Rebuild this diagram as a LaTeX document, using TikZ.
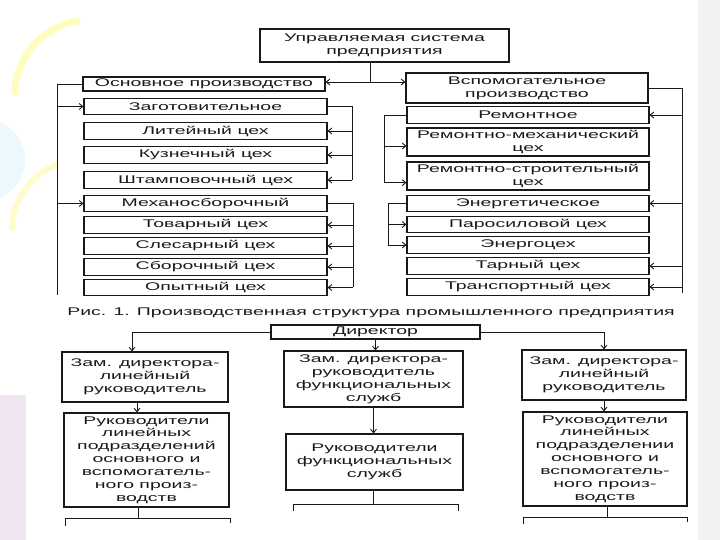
\documentclass[tikz,border=0pt]{standalone}
\usepackage{fontspec}
\setmainfont{Liberation Sans}[FakeStretch=1.75]
\usetikzlibrary{arrows.meta,positioning}
\tikzset{
  box/.style={draw=black!90,line width=.95pt,inner sep=0pt,align=center,text=black!90,font=\fontsize{9.5}{11}\selectfont},
  lbox/.style={box,minimum width=7.29cm,minimum height=.49cm},
  rbox/.style={box,minimum width=7.26cm,minimum height=.49cm},
  wire/.style={draw=black!90,line width=.8pt},
  arr/.style={wire,-{Straight Barb[length=3pt,width=5pt]}}
}
\begin{document}
\begin{tikzpicture}[x=.03cm,y=-.03cm]
\useasboundingbox (0,0) rectangle (720,540);
% slide background
\fill[gray!10] (698,0) rectangle (720,540);
\fill[violet!10] (0,395) rectangle (26,540);
\fill[cyan!8] (0,122) .. controls (34,140) and (34,180) .. (0,198) -- cycle;
\draw[yellow!25,line width=6pt] (15,95) arc[start angle=180,end angle=262,radius=75];
\draw[yellow!20,line width=5pt] (12,230) arc[start angle=180,end angle=250,radius=70];

% production structure
\node[box,minimum width=7.47cm,minimum height=.99cm] (sys) at (384.5,45.5) {Управляемая система\\предприятия};
\node[box,minimum width=7.26cm,minimum height=.42cm] (osn) at (204,84) {Основное производство};
\node[box,minimum width=7.26cm,minimum height=.9cm] (vsp) at (527,88) {Вспомогательное\\производство};
\foreach \nm/\yy/\txt in {zag/106.5/Заготовительное,lit/131/Литейный цех,kuz/155/Кузнечный цех,sht/180/Штамповочный цех,mech/203.5/Механосборочный,tov/225/Товарный цех,sles/246/Слесарный цех,sbor/267/Сборочный цех,opyt/287.5/Опытный цех}
  \node[lbox] (\nm) at (205.5,\yy) {\txt};
\foreach \nm/\yy/\txt in {rem/115/Ремонтное,energ/203.5/Энергетическое,par/224.5/Паросиловой цех,energo/245/Энергоцех,tar/266/Тарный цех,trans/287/Транспортный цех}
  \node[rbox] (\nm) at (528,\yy) {\txt};
\node[rbox,minimum height=.84cm] (remmeh) at (528,142) {Ремонтно-механический\\цех};
\node[rbox,minimum height=.84cm] (remstr) at (528,176) {Ремонтно-строительный\\цех};
\node[text=black!90,font=\fontsize{9.5}{11}\selectfont] (cap) at (371,313) {Рис. 1. Производственная структура промышленного предприятия};

\coordinate (fork) at (370,82);
\draw[wire] (sys.south -| fork) -- (fork);
\draw[arr] (fork) -- (osn.east |- fork);
\draw[arr] (fork) -- (vsp.west |- fork);
% main production
\coordinate (ltr) at (57,295);
\draw[wire] (osn.west) -| (ltr);
\foreach \nm in {zag,mech} \draw[arr] (ltr |- \nm.west) -- (\nm.west);
\coordinate (zb) at (352,0);
\draw[wire] (zag.east) -| (zb |- sht.east);
\foreach \nm in {lit,kuz,sht} \draw[arr] (zb |- \nm.east) -- (\nm.east);
\coordinate (mb) at (353,0);
\draw[wire] (mech.east) -| (mb |- opyt.east);
\foreach \nm in {tov,sles,sbor,opyt} \draw[arr] (mb |- \nm.east) -- (\nm.east);
% auxiliary production
\coordinate (rtr) at (682,293);
\draw[wire] (vsp.east) -| (rtr);
\foreach \nm in {rem,energ,tar,trans} \draw[arr] (rtr |- \nm.east) -- (\nm.east);
\coordinate (rb) at (384,0);
\coordinate (mhin) at ([yshift=-.12cm]remmeh.west);
\coordinate (stin) at ([yshift=-.2cm]remstr.west);
\draw[wire] (rem.west) -| (rb |- stin);
\foreach \nm in {mhin,stin} \draw[arr] (rb |- \nm) -- (\nm);
\coordinate (eb) at (388,0);
\draw[wire] (energ.west) -| (eb |- energo.west);
\foreach \nm in {par,energo} \draw[arr] (eb |- \nm.west) -- (\nm.west);

% management
\node[box,minimum width=6.27cm,minimum height=.42cm] (dir) at (375.5,332) {Директор};
\node[box,minimum width=4.98cm,minimum height=1.5cm] (zam1) at (145,377) {Зам. директора-\\линейный\\руководитель};
\node[box,minimum width=4.95cm,minimum height=2.82cm] (ruk1) at (146.5,460) {Руководители\\линейных\\подразделений\\основного и\\вспомогатель-\\ного произ-\\водств};
\node[box,minimum width=5.37cm,minimum height=1.68cm] (zam2) at (373.5,379) {Зам. директора-\\руководитель\\функциональных\\служб};
\node[box,minimum width=5.31cm,minimum height=1.68cm] (ruk2) at (374.5,462) {Руководители\\функциональных\\служб};
\node[box,minimum width=4.92cm,minimum height=1.5cm] (zam3) at (604,375) {Зам. директора-\\линейный\\руководитель};
\node[box,minimum width=4.92cm,minimum height=2.82cm] (ruk3) at (605,459) {Руководители\\линейных\\подразделении\\основного и\\вспомогатель-\\ного произ-\\водств};

\draw[arr] (dir.west) -| ([xshift=-.39cm]zam1.north);
\draw[arr] (dir.south) -- (dir.south |- zam2.north);
\draw[arr] (dir.east) -| (zam3.north);
\draw[arr] ([xshift=-.24cm]zam1.south) -- ([xshift=-.24cm]zam1.south |- ruk1.north);
\draw[arr] (zam2.south) -- (zam2.south |- ruk2.north);
\draw[arr] (zam3.south) -- (zam3.south |- ruk3.north);
% next level, cut off
\coordinate (n1) at (138,518);
\coordinate (n2) at (373,504);
\coordinate (n3) at (607,517);
\draw[wire] (ruk1.south -| n1) -- (n1);
\draw[wire] (ruk2.south -| n2) -- (n2);
\draw[wire] (ruk3.south -| n3) -- (n3);
\draw[wire] (65,526) |- (230,518) -- (230,523);
\draw[wire] (293,511) |- (458,504) -- (458,511);
\draw[wire] (523,524) |- (687,517) -- (687,522);
\end{tikzpicture}
\end{document}
